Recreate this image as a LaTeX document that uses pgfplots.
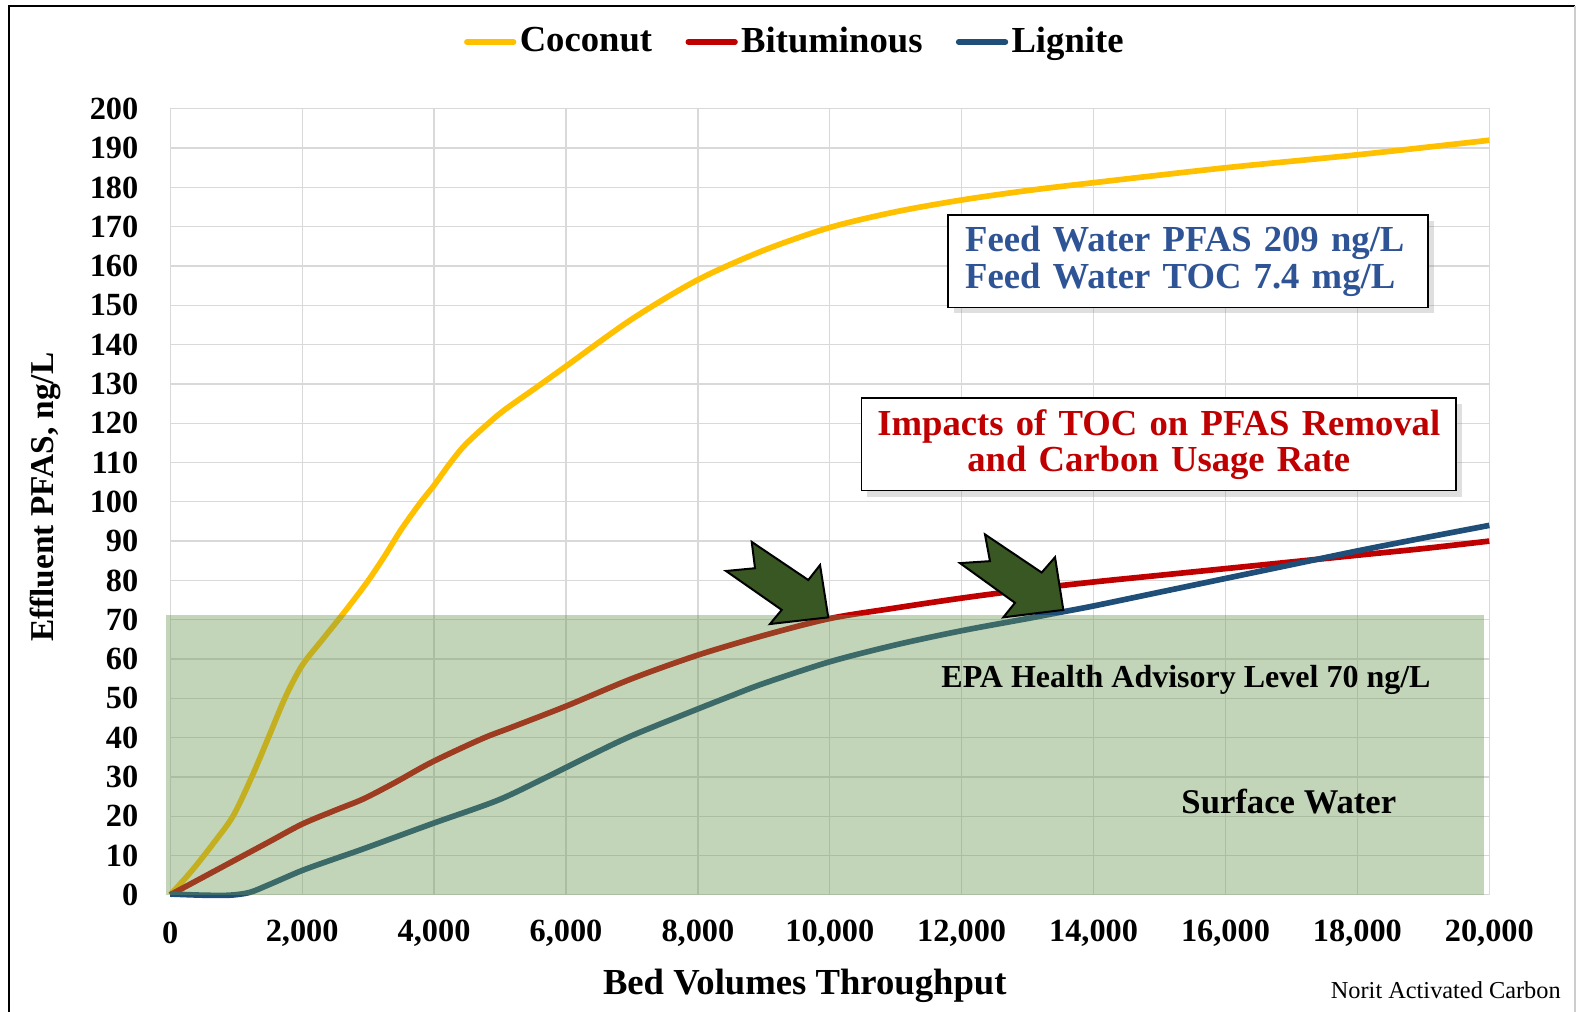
\documentclass[border=0pt]{standalone}
\usepackage{fontspec}
\setmainfont{Liberation Serif}
\usepackage{pgfplots}
\pgfplotsset{compat=1.18}
\usetikzlibrary{shadows}

\definecolor{coco}{RGB}{255,192,0}
\definecolor{bitu}{RGB}{192,0,0}
\definecolor{lign}{RGB}{31,78,121}
\definecolor{gridc}{RGB}{217,217,217}
\definecolor{epa}{RGB}{105,150,80}
\definecolor{arrowc}{RGB}{56,87,35}
\definecolor{feedblue}{RGB}{47,84,150}

\begin{document}
\begin{tikzpicture}
\path[use as bounding box] (-51.09pt,-34.86pt) rectangle (422.91pt,268.44pt);
\draw[black, line width=0.75pt] (-48.4pt,-40pt) -- (-48.4pt,266.6pt) -- (421.4pt,266.6pt);
\draw[gray!40, line width=0.4pt] (421.4pt,266.6pt) -- (421.4pt,-40pt);
\begin{axis}[
  at={(0pt,0pt)}, anchor=south west,
  scale only axis, width=395.7pt, height=235.8pt,
  xmin=0, xmax=20000, ymin=0, ymax=200,
  xtick distance=2000, ytick distance=10,
  scaled x ticks=false,
  grid=major, grid style={gridc, line width=0.4pt},
  axis line style={gridc}, major tick length=0pt,
  clip=false,
  /pgf/number format/assume math mode=true,
  /pgf/number format/1000 sep={,},
  tick label style={font=\fontsize{9.7}{11}\selectfont\bfseries, inner sep=0pt},
  xticklabel style={anchor=center, yshift=-11.5pt},
  yticklabel style={anchor=east, xshift=-9.4pt},
  xlabel={Bed Volumes Throughput},
  xlabel style={at={(axis description cs:0.481,-0.1154)}, anchor=center, font=\fontsize{11}{13}\selectfont\bfseries},
  ylabel={Effluent PFAS, ng/L},
  ylabel style={at={(axis description cs:-0.0947,0.506)}, anchor=center, rotate=0, font=\fontsize{10}{12}\selectfont\bfseries},
  legend style={at={(axis description cs:0.474,1.085)}, anchor=center, draw=none, fill=none,
    legend columns=3, font=\fontsize{11}{13}\selectfont\bfseries,
    nodes={inner xsep=1pt},
    /tikz/every even column/.append style={column sep=9pt}},
  legend image code/.code={\draw[#1, line width=1.7pt, line cap=round] (0pt,0pt) -- (14pt,0pt);},
]
\addplot[coco, line width=1.7pt, smooth] coordinates {
(0,0) (330,6.2) (667,13.4) (957,20.2) (1246,30.4) (1500,40.5) (1750,50.5) (2000,58.4)
(2300,64.8) (2638,71.9) (2986,79.6) (3250,86.2) (3507,93.1) (3797,99.9) (4000,104.2) (4250,110)
(4500,115) (5000,122.5) (5500,128.5) (6000,134.5) (7000,146.5) (8000,156.5) (9000,164) (10000,169.8)
(11000,173.8) (12000,176.8) (13000,179.2) (14000,181.2) (16000,185) (18000,188.3) (20000,192)};
\addlegendentry{Coconut}
\addplot[bitu, line width=1.7pt, smooth] coordinates {
(0,0) (500,4.5) (1000,9) (1500,13.5) (2000,18) (2500,21.5) (2928,24.4) (3400,28.5) (3971,33.8)
(4725,39.7) (5188,42.7) (6000,48) (7000,55) (8000,61) (9000,66) (10000,70.3) (11000,73)
(12000,75.5) (13000,77.7) (14000,79.6) (15000,81.3) (16000,83) (17000,84.7) (18000,86.4)
(19000,88.1) (20000,90)};
\addlegendentry{Bituminous}
\addplot[lign, line width=1.7pt, smooth] coordinates {
(0,0.2) (500,-0.1) (900,-0.1) (1200,0.6) (1500,2.6) (2000,6.2) (2500,9.2) (2928,11.7)
(3971,18.1) (4957,24) (5652,29.5) (6348,35.3) (7000,40.5) (8000,47.3) (8500,50.6) (9000,53.8)
(10000,59.3) (11000,63.6) (12000,67.2) (13000,70.3) (13500,71.9) (14000,73.5) (15000,77)
(16000,80.5) (17000,84) (18000,87.5) (19000,90.8) (20000,94)};
\addlegendentry{Lignite}
% health advisory band
\addplot[draw=none, fill=epa, fill opacity=0.4, forget plot] coordinates {
(-61,0) (-61,71.3) (19924,71.3) (19924,0)} -- cycle;
% arrows
\addplot[fill=arrowc, draw=black, line width=0.6pt, forget plot] coordinates {
(8816,89.8) (9674,80.1) (9852,83.9) (9977,70.6) (9093,68.9) (9271,72.5) (8426,82.4) (8866,83.1)} -- cycle;
\addplot[fill=arrowc, draw=black, line width=0.6pt, forget plot] coordinates {
(12353,91.7) (13213,82.0) (13415,85.9) (13541,72.5) (12631,70.6) (12808,74.3) (11974,84.4) (12429,84.9)} -- cycle;

\node[draw=black, line width=0.5pt, fill=white,
  drop shadow={shadow xshift=1.8pt, shadow yshift=-1.8pt, opacity=0.25},
  text width=133.7pt, inner xsep=5.1pt, minimum height=25.7pt, align=left,
  font=\fontsize{11}{10.9}\selectfont\bfseries, text=feedblue]
  at (axis cs:15431,161.2) {Feed Water PFAS 209 ng/L\\Feed Water TOC 7.4 mg/L};
\node[draw=black, line width=0.5pt, fill=white,
  drop shadow={shadow xshift=1.8pt, shadow yshift=-1.8pt, opacity=0.25},
  text width=172pt, inner xsep=3.2pt, minimum height=26.6pt, align=center,
  font=\fontsize{11}{10.9}\selectfont\bfseries, text=bitu]
  at (axis cs:14989,114.6) {Impacts of TOC on PFAS Removal\\and Carbon Usage Rate};
\node[font=\fontsize{9.6}{11}\selectfont\bfseries] at (axis cs:15401,54.6) {EPA Health Advisory Level 70 ng/L};
\node[font=\fontsize{10.4}{12}\selectfont\bfseries] at (axis cs:16960,23.8) {Surface Water};
\node[font=\fontsize{7.3}{9}\selectfont] at (axis description cs:0.967,-0.1218) {Norit Activated Carbon};
\end{axis}
\end{tikzpicture}
\end{document}
